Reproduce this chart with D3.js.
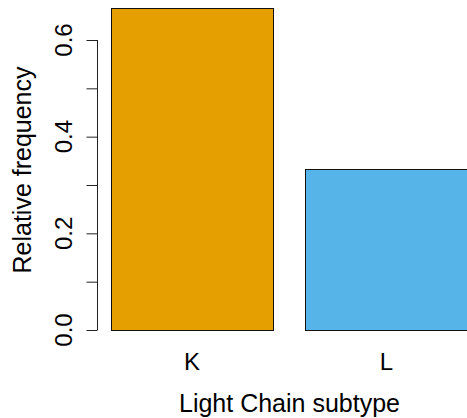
<!doctype html>
<html lang="en">
  <head>
    <meta charset="utf-8">
    <title>Light chain subtype</title>
    <script src="https://d3js.org/d3.v7.min.js"></script>
    <style>
    body { margin: 0; background: #fff; }
    text { font-family: "Liberation Sans", Arial, Helvetica, sans-serif; fill: #000; }
    </style>
  </head>

  <body>
    <svg width="467" height="418"></svg>

    <script>
      var categories = ['K', 'L'];
      var frequencies = [2 / 3, 1 / 3];
      var barColors = ['#E69F00', '#56B4E9'];
      var yTicks = [0, 0.1, 0.2, 0.3, 0.4, 0.5, 0.6];
      var yTickLabels = [0, 0.2, 0.4, 0.6];

      var svg = d3.select('svg');

      // R barplot: width 1, space 0.2 -> inner and outer padding 1/6 of a step
      var x = d3.scaleBand()
        .domain(categories)
        .range([78.6, 499.8])
        .paddingInner(1 / 6)
        .paddingOuter(1 / 6);

      var y = d3.scaleLinear()
        .domain([0, 0.6])
        .range([330, 40]);

      svg.selectAll('rect.bar')
        .data(categories)
        .enter().append('rect')
          .attr('class', 'bar')
          .attr('x', function(d){ return Math.round(x(d)) + 0.5; })
          .attr('width', x.bandwidth())
          .attr('y', function(d, i){ return Math.round(y(frequencies[i])) + 0.5; })
          .attr('height', function(d, i){ return Math.round(y(0)) - Math.round(y(frequencies[i])); })
          .attr('fill', function(d, i){ return barColors[i]; })
          .attr('stroke', '#111')
          .attr('stroke-width', 1);

      // left axis, R style: ticks every 0.1, labels every 0.2, rotated
      var yAxis = d3.axisLeft(y)
        .tickValues(yTicks)
        .tickSizeInner(11)
        .tickSizeOuter(0)
        .tickFormat('');

      var ax = svg.append('g')
        .attr('transform', 'translate(97.5, 0)')
        .call(yAxis);
      ax.select('.domain')
        .attr('d', 'M0,' + y(0.6) + 'V' + y(0))
        .attr('stroke', '#222');
      ax.selectAll('.tick line').attr('stroke', '#222');

      svg.selectAll('text.ytick')
        .data(yTickLabels)
        .enter().append('text')
          .attr('class', 'ytick')
          .attr('transform', function(d){ return 'translate(72,' + y(d) + ') rotate(-90)'; })
          .attr('text-anchor', 'middle')
          .style('font-size', '24px')
          .text(function(d){ return d3.format('.1f')(d); });

      svg.selectAll('text.xlab')
        .data(categories)
        .enter().append('text')
          .attr('class', 'xlab')
          .attr('x', function(d){ return x(d) + x.bandwidth() / 2; })
          .attr('y', 370)
          .attr('text-anchor', 'middle')
          .style('font-size', '24px')
          .text(function(d){ return d; });

      svg.append('text')
        .attr('x', 289.5)
        .attr('y', 411.5)
        .attr('text-anchor', 'middle')
        .style('font-size', '25px')
        .text('Light Chain subtype');

      svg.append('text')
        .attr('transform', 'translate(31,170) rotate(-90)')
        .attr('text-anchor', 'middle')
        .style('font-size', '25px')
        .text('Relative frequency');
    </script>
  </body>
</html>
